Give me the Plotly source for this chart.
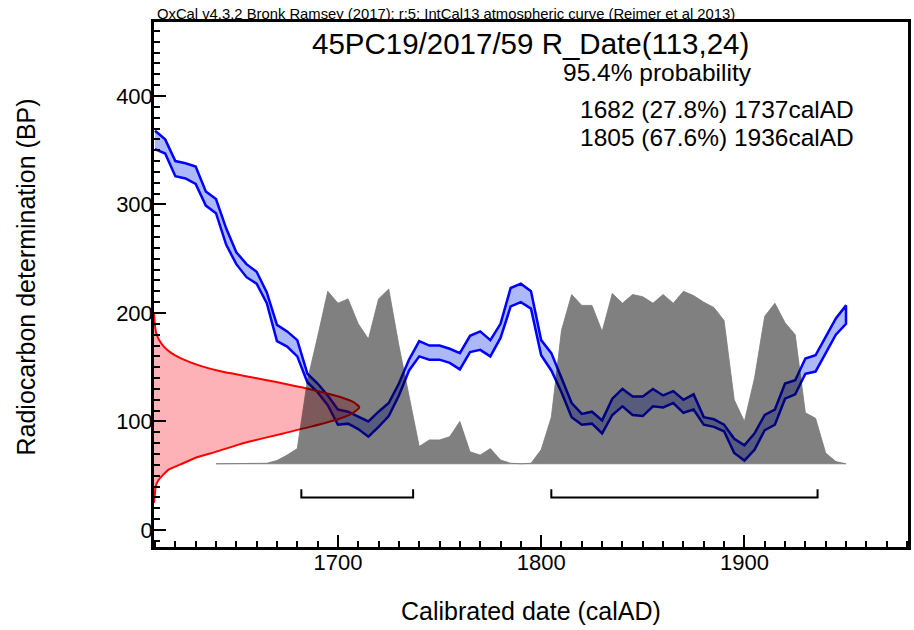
import plotly.graph_objects as go

# ---------------- data ----------------
# IntCal13 calibration curve, upper and lower edge of the band (BP)
curve_year = list(range(1610, 1955, 5))
curve_upper = [368, 360, 340, 338, 335, 312, 305, 278, 256, 245,
               238, 219, 189, 183, 175, 144, 135, 124, 111, 109,
               104.5, 100, 109, 117, 135, 157, 174, 170, 170, 167,
               163, 179, 183, 175, 190, 223, 227, 220, 175, 163,
               140, 117, 107, 109, 101, 121, 130, 123, 123, 130,
               124, 128, 120, 125, 104, 102, 97, 84, 78, 89,
               106, 111, 135, 138, 158, 161, 178, 195, 207]
curve_lower = [351, 347, 326, 324, 319, 299, 292, 263, 245, 233,
               227, 209, 174, 169, 160, 136, 127, 115, 97, 98,
               93, 86, 95, 105, 124, 147, 160, 157, 157, 154,
               148, 164, 166, 160, 177, 206, 210, 204, 161, 147,
               127, 104, 97, 98, 89, 106, 114, 106, 105, 114,
               113, 117, 108, 111, 97, 95, 91, 71, 64, 74,
               92, 97, 121, 125, 144, 146, 163, 180, 190]

# calibrated probability distribution (relative, arbitrary units)
cal_year = list(range(1640, 1955, 5))
cal_prob = [0, 0, 0, 0, 0, 0.5, 3, 8, 14, 77,
            117, 159, 148, 152, 129, 115, 152, 161, 109, 64,
            16, 22, 22, 25, 39, 11, 8, 14, 3.5, 0.5,
            0, 0.5, 13, 43, 123, 156, 146, 146, 122, 157,
            148, 156, 154, 148, 156, 148, 159, 155, 149, 144,
            132, 59, 39, 79, 136, 148, 130, 119, 47, 42,
            10, 2, 0.5]

# radiocarbon measurement distribution R_Date(113,24): BP and relative density
rdate_bp = [25, 32, 40, 46, 51, 56, 61.5, 67, 72, 78, 81.5, 89, 95, 103, 108, 113,
            118, 123, 127, 131, 135, 138, 142, 146, 151, 157, 163, 169, 175, 182,
            190, 200]
rdate_p = [0.0, 0.004, 0.008, 0.022, 0.045, 0.075, 0.142, 0.21, 0.30, 0.40, 0.466,
           0.63, 0.76, 0.91, 0.97, 1.0, 0.97, 0.90, 0.82, 0.73, 0.63, 0.55, 0.44,
           0.33, 0.23, 0.145, 0.085, 0.048, 0.025, 0.01, 0.004, 0.0]

# 95.4% ranges (calAD)
range_from = [1682, 1805]
range_to = [1737, 1936]

title_text = "45PC19/2017/59 R_Date(113,24)"
credit_text = "OxCal v4.3.2 Bronk Ramsey (2017); r:5; IntCal13 atmospheric curve (Reimer et al 2013)"
prob_lines = ["95.4% probability",
              "1682 (27.8%) 1737calAD",
              "1805 (67.6%) 1936calAD"]

# ---------------- layout constants ----------------
W, H = 914, 630
L, R, T, B = 154, 911, 22, 547          # plot area in pixels
X_RANGE = [1609.5, 1980.5]
Y_RANGE = [-15.7, 468.2]
CAL_BASE, CAL_HEIGHT = 61, 161          # where the calibrated distribution sits (BP units)
RDATE_W = 101                           # peak width of R_Date curve (years units)
BR_Y, BR_TICK = 30, 37.5                # bracket level (BP units)
FONT = "Liberation Sans, Arial, Helvetica, sans-serif"


def px(xp):
    return (xp - L) / (R - L)


def py(yp):
    return (B - yp) / (B - T)


fig = go.Figure()

# calibration curve band
fig.add_trace(go.Scatter(
    x=curve_year + curve_year[::-1],
    y=curve_upper + curve_lower[::-1],
    mode="lines", fill="toself",
    fillcolor="rgba(0,35,235,0.32)",
    line=dict(color="#0000ff", width=2.5),
    hoverinfo="skip"))

# R_Date distribution on the y axis
x0 = X_RANGE[0]
rx = [x0 + p * RDATE_W for p in rdate_p]
fig.add_trace(go.Scatter(
    x=rx, y=rdate_bp, mode="lines", fill="toself",
    fillcolor="rgba(245,0,15,0.30)",
    line=dict(color="#ff0000", width=2, shape="spline", smoothing=0.6),
    hoverinfo="skip"))

# calibrated distribution (multiplied over the others)
pmax = max(cal_prob)
cy = [CAL_BASE + p / pmax * CAL_HEIGHT for p in cal_prob]
fig.add_trace(go.Scatter(
    x=cal_year + [cal_year[-1], cal_year[0]],
    y=cy + [CAL_BASE, CAL_BASE],
    mode="lines", fill="toself",
    fillcolor="rgb(128,128,128)",
    line=dict(color="rgb(120,120,120)", width=0.8),
    hoverinfo="skip"))

# range brackets
for a, b in zip(range_from, range_to):
    fig.add_trace(go.Scatter(
        x=[a, a, b, b], y=[BR_TICK, BR_Y, BR_Y, BR_TICK],
        mode="lines", line=dict(color="black", width=2),
        hoverinfo="skip"))

axis_common = dict(
    showline=True, linecolor="black", linewidth=2.5, mirror=True,
    showgrid=False, zeroline=False,
    ticks="inside", ticklen=12, tickwidth=2, tickcolor="black",
    tickfont=dict(family=FONT, size=22, color="black"),
)

fig.update_layout(
    width=W, height=H,
    margin=dict(l=L, r=W - R, t=T, b=H - B, pad=0),
    paper_bgcolor="white", plot_bgcolor="white",
    showlegend=False,
    xaxis=dict(range=X_RANGE, tick0=1700, dtick=100,
               minor=dict(ticks="inside", ticklen=6, tickwidth=1.5,
                          tickcolor="black", tick0=1600, dtick=10),
               ticklabelstandoff=-6, **axis_common),
    yaxis=dict(range=Y_RANGE, tick0=0, dtick=100,
               minor=dict(ticks="inside", ticklen=6, tickwidth=1.5,
                          tickcolor="black", tick0=0, dtick=10),
               ticklabelstandoff=-6, **axis_common),
)

ann = [
    dict(text=credit_text, x=px(155), y=py(13.5), xanchor="left", yanchor="middle",
         font=dict(size=14.8)),
    dict(text=title_text, x=px(532), y=py(44), xanchor="center", yanchor="middle",
         font=dict(size=29.5)),
    dict(text=prob_lines[0], x=px(563), y=py(72.5), xanchor="left", yanchor="middle",
         font=dict(size=24.5)),
    dict(text=prob_lines[1], x=px(580), y=py(109), xanchor="left", yanchor="middle",
         font=dict(size=24.5)),
    dict(text=prob_lines[2], x=px(580), y=py(137), xanchor="left", yanchor="middle",
         font=dict(size=24.5)),
    dict(text="Calibrated date (calAD)", x=px(533), y=py(611), xanchor="center",
         yanchor="middle", font=dict(size=25)),
    dict(text="Radiocarbon determination (BP)", x=px(25), y=py(277), xanchor="center",
         yanchor="middle", textangle=-90, font=dict(size=25)),
]
for a in ann:
    a.update(xref="paper", yref="paper", showarrow=False)
    a["font"].update(family=FONT, color="black")
fig.update_layout(annotations=ann)

post = """
document.body.style.margin = '0';
document.body.style.padding = '0';
var gd = document.getElementById('{plot_id}');
var tr = gd.querySelectorAll('.scatterlayer .trace');
if (tr.length > 2) { tr[2].style.mixBlendMode = 'multiply'; }
"""

fig.write_html("out.html", config={"displayModeBar": False}, post_script=post)
